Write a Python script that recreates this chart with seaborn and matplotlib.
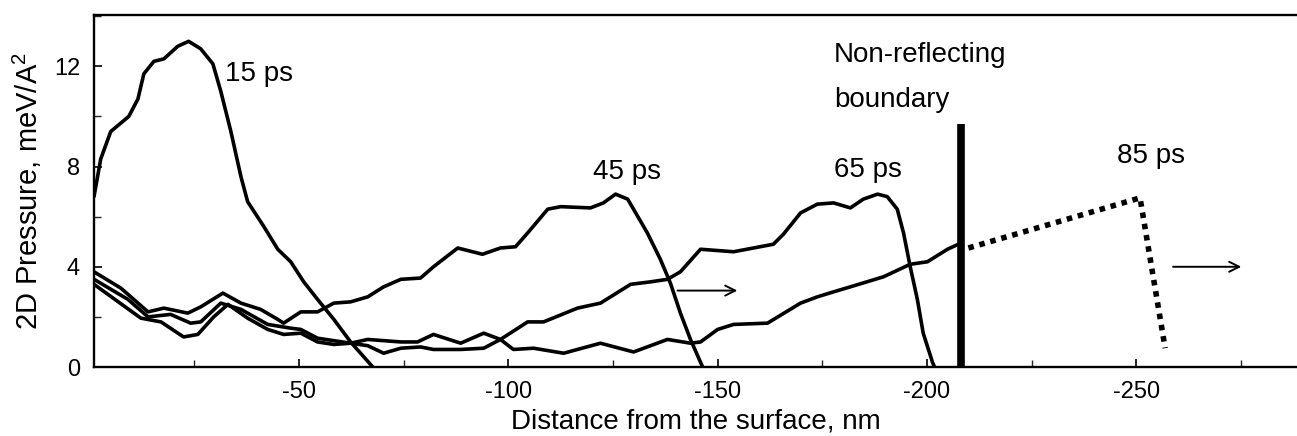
import matplotlib
matplotlib.use("Agg")
import matplotlib.pyplot as plt
from matplotlib.ticker import MultipleLocator
import seaborn as sns
import pandas as pd

# ---- data ----
x15 = [-1.0, -2.6, -5.0, -9.3, -11.5, -12.9, -15.3, -17.7, -21.0, -23.6, -26.5, -29.4,
       -31.3, -33.7, -36.1, -37.7, -41.6, -44.9, -48.0, -51.1, -54.4, -58.3, -62.3, -67.6]
y15 = [6.8, 8.3, 9.4, 10.0, 10.7, 11.7, 12.2, 12.3, 12.8, 13.0, 12.7, 12.1,
       11.0, 9.4, 7.6, 6.6, 5.6, 4.7, 4.2, 3.4, 2.7, 1.9, 1.0, 0.0]

x45 = [-1.0, -7.4, -13.9, -17.7, -23.4, -26.5, -31.8, -36.1, -40.8, -44.9, -46.3, -50.4,
       -54.4, -58.3, -62.3, -66.4, -70.2, -74.3, -79.0, -82.1, -87.9, -93.8, -98.1, -101.7,
       -104.6, -109.4, -112.5, -119.6, -122.7, -125.6, -128.5, -133.2, -136.3, -138.7,
       -141.1, -143.5, -146.4]
y45 = [3.8, 3.15, 2.2, 2.35, 2.15, 2.4, 2.95, 2.55, 2.3, 1.9, 1.75, 2.2,
       2.2, 2.55, 2.6, 2.8, 3.2, 3.5, 3.55, 4.0, 4.75, 4.5, 4.75, 4.8,
       5.35, 6.3, 6.4, 6.35, 6.55, 6.9, 6.7, 5.35, 4.3, 3.35,
       2.15, 1.1, 0.0]

x65 = [-1.0, -12.2, -17.0, -22.4, -25.8, -29.6, -33.0, -37.7, -42.5, -46.3, -50.4, -54.4,
       -58.3, -62.3, -66.4, -70.2, -74.3, -79.0, -82.1, -88.6, -94.1, -98.1, -104.6, -108.4,
       -116.5, -122.0, -129.2, -134.0, -138.0, -141.1, -145.9, -153.8, -163.3, -165.7,
       -169.8, -173.8, -177.7, -181.7, -184.8, -188.2, -190.5, -192.9, -194.4, -196.0,
       -197.7, -199.1, -201.3, -201.8]
y65 = [3.3, 1.95, 1.8, 1.2, 1.3, 2.0, 2.5, 1.95, 1.5, 1.3, 1.35, 1.0,
       0.9, 0.95, 0.85, 0.55, 0.75, 0.8, 0.7, 0.7, 0.75, 1.1, 1.8, 1.8,
       2.35, 2.55, 3.3, 3.4, 3.5, 3.8, 4.7, 4.6, 4.9, 5.3,
       6.15, 6.5, 6.55, 6.35, 6.7, 6.9, 6.8, 6.3, 5.35, 4.0,
       2.7, 1.35, 0.2, 0.0]

x85 = [-1.0, -9.1, -13.9, -19.3, -24.1, -26.5, -31.3, -36.1, -42.5, -48.0, -50.4, -54.4,
       -62.3, -66.4, -74.3, -78.3, -82.1, -88.6, -94.1, -98.1, -101.2, -106.0, -113.2,
       -122.0, -129.9, -138.0, -143.5, -145.9, -150.0, -153.8, -161.9, -169.8, -173.8,
       -177.7, -181.7, -189.6, -196.0, -200.1, -204.9, -207.5]
y85 = [3.5, 2.7, 2.0, 2.1, 1.75, 1.8, 2.55, 2.3, 1.7, 1.55, 1.5, 1.15,
       0.95, 1.1, 1.0, 1.0, 1.3, 0.95, 1.35, 1.1, 0.7, 0.75, 0.55,
       0.95, 0.6, 1.1, 0.95, 1.0, 1.5, 1.7, 1.75, 2.55, 2.8,
       3.0, 3.2, 3.6, 4.1, 4.2, 4.7, 4.9]

x85_beyond = [-209.9, -250.9, -256.9]
y85_beyond = [4.75, 6.75, 0.75]

boundary_x = -208.2
boundary_top = 9.7

curve_labels = ["15 ps", "45 ps", "65 ps", "85 ps"]
label_x = [-32.3, -120.2, -177.8, -245.3]
label_y = [11.4, 7.5, 7.6, 8.16]

boundary_text = ["Non-reflecting", "boundary"]
boundary_text_x = -177.8
boundary_text_y = [12.16, 10.36]

arrow_x0 = [-140.4, -258.8]
arrow_x1 = [-154.7, -275.1]
arrow_y = [3.05, 4.0]

x_ticks = [-50, -100, -150, -200, -250]
y_ticks = [0, 4, 8, 12]
x_label = "Distance from the surface, nm"
y_label = "2D Pressure, meV/A$^2$"

# ---- style ----
sns.set_theme(style="white")
plt.rcParams["font.family"] = ["Liberation Sans", "DejaVu Sans"]
plt.rcParams["mathtext.fontset"] = "custom"
plt.rcParams["mathtext.rm"] = "Liberation Sans"
plt.rcParams["mathtext.it"] = "Liberation Sans:italic"
plt.rcParams["mathtext.bf"] = "Liberation Sans:bold"

fig = plt.figure(figsize=(12.97, 4.36), dpi=100)
ax = fig.add_axes([94 / 1297, 69 / 436, 1 - 94 / 1297, 352 / 436])

lw = 2.6
for xs, ys in [(x15, y15), (x45, y45), (x65, y65), (x85, y85)]:
    df = pd.DataFrame({"x": xs, "y": ys})
    sns.lineplot(data=df, x="x", y="y", ax=ax, color="black", lw=lw,
                 sort=False, estimator=None)

dfd = pd.DataFrame({"x": x85_beyond, "y": y85_beyond})
sns.lineplot(data=dfd, x="x", y="y", ax=ax, color="black", lw=4.0,
             sort=False, estimator=None, linestyle=(0, (1, 1.05)),
             dash_capstyle="butt")

ax.plot([boundary_x, boundary_x], [0, boundary_top], color="black", lw=5.5,
        solid_capstyle="butt")

for t, tx, ty in zip(curve_labels, label_x, label_y):
    ax.text(tx, ty, t, fontsize=20, ha="left", va="baseline", color="black")
for t, ty in zip(boundary_text, boundary_text_y):
    ax.text(boundary_text_x, ty, t, fontsize=20, ha="left", va="baseline", color="black")

for a0, a1, ay in zip(arrow_x0, arrow_x1, arrow_y):
    ax.annotate("", xy=(a1, ay), xytext=(a0, ay),
                arrowprops=dict(arrowstyle="->", color="black", lw=1.4,
                                mutation_scale=18, shrinkA=0, shrinkB=0))

ax.set_xlim(-1.0, -288.4)
ax.set_ylim(0, 14.05)
ax.set_xticks(x_ticks)
ax.set_xticklabels([str(v) for v in x_ticks])
ax.set_yticks(y_ticks)
ax.set_yticklabels([str(v) for v in y_ticks])
ax.xaxis.set_minor_locator(MultipleLocator(25))
ax.yaxis.set_minor_locator(MultipleLocator(2))
ax.tick_params(axis="both", which="major", direction="in", length=6, width=1.2,
               labelsize=17, colors="black", pad=10,
               bottom=True, left=True, top=False, right=False)
ax.tick_params(axis="both", which="minor", direction="in", length=5, width=1.0,
               bottom=True, left=True, top=False, right=False)

ax.set_xlabel(x_label, fontsize=20, labelpad=4, color="black")
ax.set_ylabel(y_label, fontsize=21, labelpad=7, color="black")

for s in ["left", "bottom", "top"]:
    ax.spines[s].set_visible(True)
    ax.spines[s].set_color("black")
    ax.spines[s].set_linewidth(1.7)
ax.spines["right"].set_visible(False)
ax.grid(False)
ax.set_facecolor("white")
fig.patch.set_facecolor("white")

fig.savefig("out.png", dpi=100)
